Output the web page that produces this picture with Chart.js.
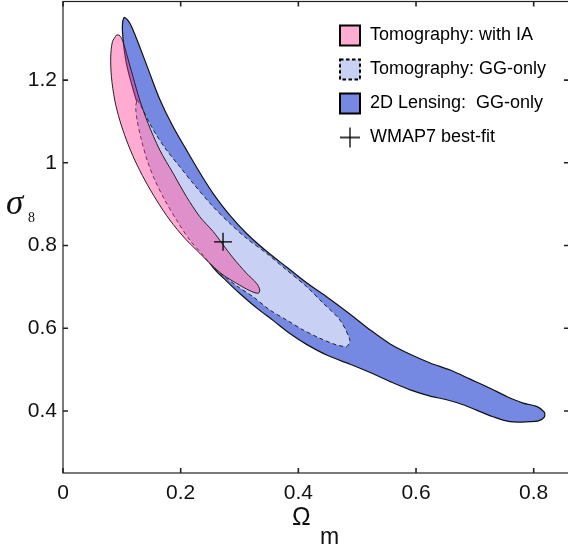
<!DOCTYPE html>
<html><head><meta charset="utf-8">
<style>html,body{margin:0;padding:0;background:#fff;overflow:hidden;width:568px;height:544px}#c{display:block}</style>
<script src="https://cdn.jsdelivr.net/npm/chart.js@4/dist/chart.umd.min.js"></script>
</head><body>
<canvas id="c" width="571" height="544" style="width:571px;height:544px"></canvas>
<script>
// ---- data ----
const xTicks = [0, 0.2, 0.4, 0.6, 0.8];
const xTickLabels = ['0', '0.2', '0.4', '0.6', '0.8'];
const yTicks = [0.4, 0.6, 0.8, 1, 1.2];
const yTickLabels = ['0.4', '0.6', '0.8', '1', '1.2'];
const seriesNames = ['Tomography: with IA', 'Tomography: GG-only', '2D Lensing:  GG-only', 'WMAP7 best-fit'];

// Tomography with IA contour (Omega_m, sigma_8)
const iaOmega = [0.0908,0.084,0.0811,0.0823,0.0879,0.0964,0.1078,0.1219,0.139,0.1588,0.1815,0.207,0.2325,0.2524,0.2721,0.2949,0.3175,0.3316,0.3345,0.3289,0.3119,0.2891,0.2720,0.2551,0.2325,0.2099,0.1872,0.1645,0.1446,0.1304,0.119,0.1078,0.101,0.0953,0.0908];
const iaSigma = [1.3088,1.2926,1.256,1.208,1.1517,1.1033,1.055,1.0067,0.9583,0.910,0.8617,0.8175,0.7812,0.753,0.7288,0.7087,0.6908,0.6845,0.6925,0.7087,0.7329,0.770,0.802,0.834,0.8697,0.918,0.9745,1.0308,1.0953,1.1517,1.208,1.2645,1.2967,1.3088,1.3088];

// Tomography GG-only contour
const ggOmega = [0.1259,0.136,0.1474,0.1588,0.1759,0.1985,0.2211,0.2551,0.2835,0.3119,0.3459,0.380,0.414,0.4422,0.4706,0.4876,0.4847,0.482,0.465,0.4366,0.408,0.380,0.3515,0.323,0.3005,0.275,0.2524,0.2354,0.2155,0.1929,0.173,0.156,0.1429,0.1333,0.1259,0.1236,0.1259];
const ggSigma = [1.1533,1.1275,1.0953,1.067,1.0308,0.9905,0.9504,0.894,0.8537,0.8174,0.7812,0.7408,0.7005,0.6604,0.620,0.5717,0.5596,0.5555,0.5596,0.5758,0.596,0.620,0.6442,0.6763,0.6973,0.724,0.753,0.781,0.8133,0.8617,0.910,0.9583,1.0067,1.055,1.1033,1.1355,1.1533];

// 2D lensing GG-only contour
const lensOmega = [0.104,0.110,0.117,0.130,0.147,0.164,0.186,0.209,0.236,0.257,0.283,0.312,0.346,0.380,0.414,0.452,0.488,0.522,0.556,0.590,0.624,0.658,0.692,0.726,0.754,0.782,0.805,0.818,0.818,0.808,0.794,0.760,0.731,0.703,0.680,0.652,0.624,0.590,0.556,0.522,0.488,0.450,0.414,0.385,0.357,0.330,0.3005,0.278,0.2555,0.232,0.210,0.190,0.172,0.155,0.140,0.127,0.1163,0.1078,0.1034,0.1010,0.1015,0.104];
const lensSigma = [1.352,1.345,1.328,1.282,1.218,1.155,1.090,1.033,0.968,0.922,0.874,0.829,0.786,0.748,0.710,0.672,0.634,0.596,0.562,0.537,0.516,0.499,0.477,0.455,0.435,0.419,0.411,0.397,0.385,0.376,0.374,0.374,0.386,0.402,0.415,0.427,0.436,0.451,0.471,0.493,0.513,0.534,0.561,0.588,0.619,0.648,0.684,0.714,0.746,0.795,0.845,0.900,0.960,1.020,1.080,1.140,1.192,1.240,1.280,1.320,1.342,1.352];

// WMAP7 best-fit point
const wmapOmega = [0.272];
const wmapSigma = [0.809];

const xTitle = ['\u03A9', 'm'];
const yTitle = ['\u03C3', '8'];

// ---- build ----
const pts = (xs, ys) => xs.map((v, i) => ({x: v, y: ys[i]}));
const PINK = 'rgba(255,54,148,0.42)', PINK_SOLID = 'rgb(255,171,210)';
const LIGHT = 'rgb(200,209,243)', BLUE = 'rgb(117,137,227)';

function markerCanvas(kind) {
  const c = document.createElement('canvas');
  c.width = 24; c.height = 24;
  const g = c.getContext('2d');
  if (kind === 'cross') {
    g.strokeStyle = '#000'; g.lineWidth = 1.3;
    g.beginPath(); g.moveTo(2, 12); g.lineTo(22, 12); g.moveTo(12, 2); g.lineTo(12, 22); g.stroke();
  } else {
    g.fillStyle = kind === 'pink' ? PINK_SOLID : kind === 'gg' ? LIGHT : BLUE;
    g.fillRect(2, 2, 20, 20);
    g.strokeStyle = '#000'; g.lineWidth = 2;
    if (kind === 'gg') g.setLineDash([3.5, 2.5]);
    g.strokeRect(2, 2, 20, 20);
  }
  return c;
}
const markers = [markerCanvas('pink'), markerCanvas('gg'), markerCanvas('lens'), markerCanvas('cross')];

const noPad = s => { s.paddingTop = 0; s.paddingBottom = 0; s.paddingLeft = 0; s.paddingRight = 0; };

const framePlugin = {
  id: 'frame',
  afterLayout(chart) {
    const l = chart.legend;
    if (l) { l.left = 323; l.top = 10.5; l.right = 323 + 240; l.bottom = 10.5 + 200; }
  },
  afterDraw(chart) {
    const {ctx, chartArea: a} = chart;
    const sx = chart.scales.x, sy = chart.scales.y;
    ctx.save();
    ctx.strokeStyle = '#222'; ctx.lineWidth = 1.2;
    ctx.strokeRect(a.left, a.top, a.right - a.left, a.bottom - a.top);
    ctx.lineWidth = 1.6; ctx.beginPath();
    xTicks.forEach(v => { const p = sx.getPixelForValue(v); ctx.moveTo(p, a.bottom); ctx.lineTo(p, a.bottom - 5); ctx.moveTo(p, a.top); ctx.lineTo(p, a.top + 5); });
    yTicks.forEach(v => { const p = sy.getPixelForValue(v); ctx.moveTo(a.left, p); ctx.lineTo(a.left + 5, p); ctx.moveTo(a.right, p); ctx.lineTo(a.right - 5, p); });
    ctx.stroke();
    ctx.fillStyle = '#111'; ctx.textBaseline = 'alphabetic'; ctx.textAlign = 'left';
    ctx.font = '25px "Liberation Sans", Arial, sans-serif';
    ctx.fillText(xTitle[0], 292, 524.5);
    ctx.font = '23px "Liberation Sans", Arial, sans-serif';
    ctx.fillText(xTitle[1], 320, 544);
    ctx.font = 'italic 35px "Liberation Serif", "Times New Roman", serif';
    ctx.fillText(yTitle[0], 6, 213.5);
    ctx.font = '14px "Liberation Serif", "Times New Roman", serif';
    ctx.fillText(yTitle[1], 28, 222);
    ctx.restore();
  }
};

const tickFont = {family: '"Liberation Sans", Arial, sans-serif', size: 21};

new Chart(document.getElementById('c'), {
  type: 'scatter',
  data: {
    datasets: [
      {label: seriesNames[3], data: pts(wmapOmega, wmapSigma), showLine: false, pointStyle: 'cross', pointRadius: 9, borderColor: '#000', borderWidth: 1.3, backgroundColor: '#000'},
      {label: seriesNames[0], data: pts(iaOmega, iaSigma), showLine: true, fill: 'shape', backgroundColor: PINK, borderColor: '#2a1a24', borderWidth: 1, pointRadius: 0, tension: 0.3},
      {label: seriesNames[1], data: pts(ggOmega, ggSigma), showLine: true, fill: 'shape', backgroundColor: LIGHT, borderColor: '#222', borderWidth: 1, borderDash: [4, 3], pointRadius: 0, tension: 0.3},
      {label: seriesNames[2], data: pts(lensOmega, lensSigma), showLine: true, fill: 'shape', backgroundColor: BLUE, borderColor: '#111', borderWidth: 1.2, pointRadius: 0, tension: 0.3}
    ]
  },
  options: {
    responsive: false, animation: false, devicePixelRatio: 1, events: [],
    layout: {autoPadding: false, padding: {top: 1.5, right: 2, left: 0, bottom: 0}},
    plugins: {
      tooltip: {enabled: false},
      legend: {
        position: 'chartArea', align: 'start', fullSize: false,
        labels: {
          usePointStyle: true, pointStyleWidth: 22, padding: 16, color: '#111',
          font: {family: '"Liberation Sans", Arial, sans-serif', size: 18},
          generateLabels: () => [0, 1, 2, 3].map(i => ({text: seriesNames[i], pointStyle: markers[i], hidden: false, lineWidth: 0, datasetIndex: [1, 2, 3, 0][i]}))
        }
      }
    },
    scales: {
      x: {
        type: 'linear', position: 'bottom', min: 0, max: 0.86,
        grid: {display: false, drawTicks: false}, border: {display: false},
        afterBuildTicks: s => { s.ticks = xTicks.map(v => ({value: v})); },
        afterFit: s => { s.height = 71; noPad(s); },
        ticks: {font: tickFont, color: '#111', padding: 8, maxRotation: 0, autoSkip: false,
          callback: v => xTickLabels[xTicks.indexOf(v)]}
      },
      y: {
        type: 'linear', position: 'left', min: 0.25, max: 1.39,
        grid: {display: false, drawTicks: false}, border: {display: false},
        afterBuildTicks: s => { s.ticks = yTicks.map(v => ({value: v})); },
        afterFit: s => { s.width = 63; noPad(s); },
        ticks: {font: tickFont, color: '#111', padding: 6, autoSkip: false,
          callback: v => yTickLabels[yTicks.indexOf(v)]}
      }
    }
  },
  plugins: [framePlugin]
});
</script>
</body></html>
